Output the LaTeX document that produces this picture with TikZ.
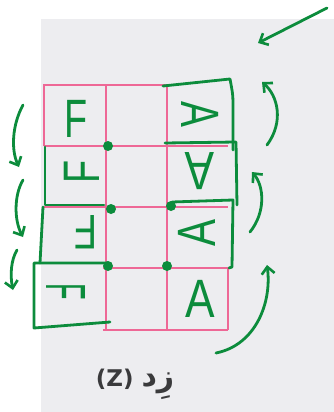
\documentclass[tikz,border=0pt]{standalone}
\usepackage{fontspec}
\usetikzlibrary{arrows.meta}
\TeXXeTstate=1
\newfontfamily\arabicfont[Script=Arabic]{DejaVu Sans}
\newfontfamily\labelfont{DejaVu Sans}
\newfontfamily\penfont{Liberation Sans}
\definecolor{pen}{RGB}{12,140,60}
\definecolor{gridpink}{RGB}{238,104,150}
\definecolor{paper}{RGB}{237,237,240}
\definecolor{ink}{RGB}{58,58,60}
\tikzset{
  gridline/.style={draw=gridpink, line width=1.6pt},
  penline/.style={draw=pen, line width=2.8pt, line cap=round, line join=round},
  penarrow/.style={penline, -{Straight Barb[length=7pt,width=13pt,line width=2.6pt]}},
  pendot/.style={circle, fill=pen, inner sep=0pt, minimum size=10pt},
  letter/.style={text=pen, inner sep=0pt, font=\fontsize{54}{54}\penfont},
}
\begin{document}
\begin{tikzpicture}[x=1pt,y=-1pt]
\useasboundingbox (0,0) rectangle (334,412);
\fill[white] (0,0) rectangle (334,412);
\fill[paper] (41,19) rectangle (334,412);

% pink grid
\draw[gridline] (44,146) -- (44,85) -- (167,85);
\draw[gridline] (44,146) -- (228,146);
\draw[gridline] (44,207) -- (228,207);
\draw[gridline] (103,268) -- (228,268);
\draw[gridline] (103,330) -- (228,330);
\draw[gridline] (106,85) -- (106,330);
\draw[gridline] (167,85) -- (167,330);
\draw[gridline] (228,268) -- (228,330);

% green boxes, left column
\draw[penline] (45,147) -- (45,205) -- (104,205);
\draw[penline] (43,207) -- (40,263);
\draw[penline] (108,263) -- (34,263) -- (34,328) -- (110,322);
% green boxes, right column
\draw[penline] (163,86) -- (230,79) .. controls (233,95) .. (233,110) -- (233,150);
\draw[penline] (165,143) -- (236,142) -- (237,205);
\draw[penline] (172,202) -- (233,200) -- (232,267) -- (229,268);

% dots
\node[pendot] (d1) at (108,146) {};
\node[pendot] (d2) at (111,209) {};
\node[pendot] (d3) at (108,266) {};
\node[pendot] (d4) at (171,206) {};
\node[pendot] (d5) at (167,266) {};

% letters F  (rotate is counter-clockwise on the page)
\node[letter] (f1) at (76,119) {\scalebox{0.7}[1]{F}};
\node[letter, rotate=90] (f2) at (82,172) {\scalebox{0.7}[0.95]{F}};
\node[letter, rotate=180] (f3) at (86,232) {\scalebox{0.7}[0.9]{F}};
\node[letter, rotate=-90] (f4) at (66,292) {\scalebox{0.5}[1.05]{F}};
% letters A
\node[letter] (a4) at (200,299) {\scalebox{0.82}[1]{A}};
\node[letter, rotate=90] (a3) at (197,233) {\scalebox{0.75}[1]{A}};
\node[letter, rotate=180] (a2) at (200,171) {\scalebox{0.82}[1]{A}};
\node[letter, rotate=-90] (a1) at (200,114) {\scalebox{0.72}[1]{A}};

% arrows
\coordinate (t0) at (327,8);   \coordinate (t1) at (258,43);
\draw[penarrow] (t0) -- (t1);
\coordinate (r1a) at (267,145); \coordinate (r1b) at (262,82);
\draw[penarrow] (r1a) .. controls (284,122) and (278,96) .. (r1b);
\coordinate (r2a) at (250,232); \coordinate (r2b) at (252,172);
\draw[penarrow] (r2a) .. controls (266,212) and (264,186) .. (r2b);
\coordinate (r3a) at (216,353); \coordinate (r3b) at (267,265);
\draw[penarrow] (r3a) .. controls (256,345) and (272,302) .. (r3b);
\coordinate (l1a) at (23,105); \coordinate (l1b) at (19,167);
\draw[penarrow] (l1a) .. controls (12,125) and (11,150) .. (l1b);
\coordinate (l2a) at (23,180); \coordinate (l2b) at (23,237);
\draw[penarrow] (l2a) .. controls (14,195) and (14,220) .. (l2b);
\coordinate (l3a) at (17,250); \coordinate (l3b) at (13,290);
\draw[penarrow] (l3a) .. controls (11,260) and (10,275) .. (l3b);

% caption
\node[text=ink, inner sep=0pt, anchor=base] (cap) at (135,386)
  {\fontsize{23}{23}\labelfont\bfseries (Z) \fontsize{30}{30}\arabicfont\bfseries\beginR زِد\endR};
\end{tikzpicture}
\end{document}
